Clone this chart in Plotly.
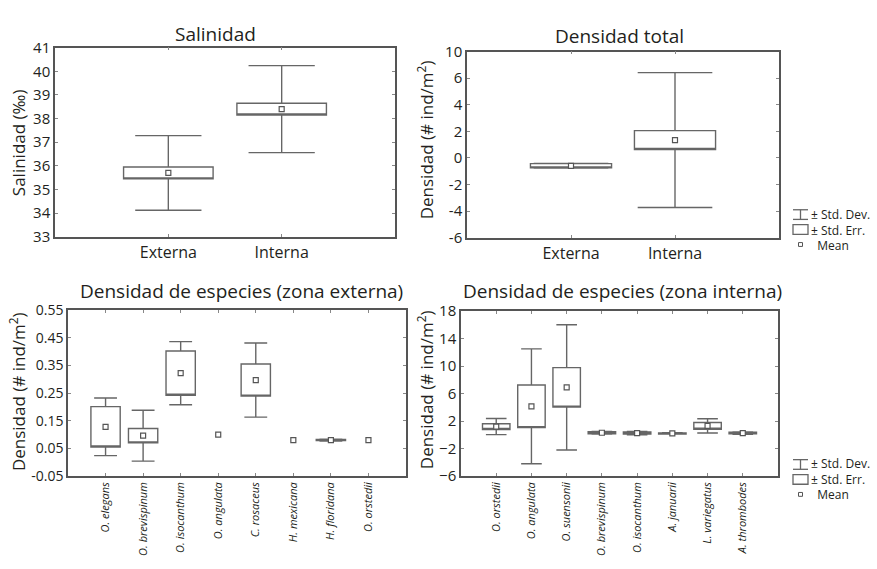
import plotly.graph_objects as go

W, H = 877, 569
FONT = "Open Sans"
TXT = "#231f20"
FRAME = "#555555"
BOXC = "#666666"

# ---------------- data ----------------
sal_cats = ["Externa", "Interna"]
sal_mean = [35.7, 38.4]
sal_se = [0.25, 0.25]
sal_sd = [1.58, 1.84]

tot_cats = ["Externa", "Interna"]
tot_mean = [-0.59, 1.34]
tot_se = [0.16, 0.71]
tot_sd = [0.17, 5.07]
tot_tickvals = [-6, -4, -2, 0, 2, 4, 6, 8]
tot_ticktext = ["-6", "-4", "-2", "0", "2", "4", "6", "10"]

ext_cats = ["O. elegans", "O. brevispinum", "O. isocanthum", "O. angulata",
            "C. rosaceus", "H. mexicana", "H. floridana", "O. orstedii"]
ext_mean = [0.128, 0.096, 0.322, 0.100, 0.297, 0.080, 0.080, 0.080]
ext_se = [0.073, 0.026, 0.080, 0.0, 0.058, 0.0, 0.002, 0.0]
ext_sd = [0.104, 0.092, 0.114, 0.0, 0.134, 0.0, 0.003, 0.0]

int_cats = ["O. orstedii", "O. angulata", "O. suensonii", "O. brevispinum",
            "O. isocanthum", "A. januarii", "L. variegatus", "A. thrombodes"]
int_mean = [1.2, 4.15, 6.9, 0.3, 0.25, 0.2, 1.3, 0.25]
int_se = [0.42, 3.1, 2.87, 0.15, 0.15, 0.08, 0.5, 0.12]
int_sd = [1.17, 8.35, 9.1, 0.2, 0.25, 0.1, 1.03, 0.18]

legend_labels = ["± Std. Dev.", "± Std. Err.", "&nbsp;&nbsp;Mean"]

# ---------------- layout geometry (pixels) ----------------
panels = [
    # (x0, x1, ytop, ybot)
    (55, 395, 38, 234),
    (467, 779, 42, 235),
    (68, 406, 310, 482),
    (461, 778, 311, 482),
]


def xd(a, b):
    return [a / W, b / W]


def yd(top, bot):
    return [1 - bot / H, 1 - top / H]


fig = go.Figure()

series = [
    (sal_cats, sal_mean, sal_se, sal_sd, 0.79, 0.74),
    (tot_cats, tot_mean, tot_se, tot_sd, 0.78, 0.92),
    (ext_cats, ext_mean, ext_se, ext_sd, 0.78, 0.78),
    (int_cats, int_mean, int_se, int_sd, 0.78, 0.75),
]

for i, (cats, mean, se, sd, bw, ww) in enumerate(series):
    xa = "x" if i == 0 else f"x{i+1}"
    ya = "y" if i == 0 else f"y{i+1}"
    keep = [j for j in range(len(cats)) if sd[j] > 0]
    fig.add_trace(go.Box(
        x=[cats[j] for j in keep],
        q1=[mean[j] - se[j] for j in keep],
        median=[mean[j] - se[j] for j in keep],
        q3=[mean[j] + se[j] for j in keep],
        lowerfence=[mean[j] - sd[j] for j in keep],
        upperfence=[mean[j] + sd[j] for j in keep],
        width=bw, whiskerwidth=ww,
        fillcolor="white", line=dict(color=BOXC, width=1.4),
        boxpoints=False, showlegend=False, hoverinfo="skip",
        xaxis=xa, yaxis=ya,
    ))
    fig.add_trace(go.Scatter(
        x=cats, y=mean, mode="markers",
        marker=dict(symbol="square", size=5, color="white",
                    line=dict(color="#555555", width=1.2)),
        showlegend=False, hoverinfo="skip", xaxis=xa, yaxis=ya,
    ))

axis_common = dict(showline=True, mirror="ticks", linecolor=FRAME, linewidth=1.5,
                   ticks="inside", ticklen=3, tickcolor="#888888", showgrid=False,
                   zeroline=False, fixedrange=True)

layout = dict(
    width=W, height=H, margin=dict(l=0, r=0, t=0, b=0),
    paper_bgcolor="white", plot_bgcolor="white",
    font=dict(family=FONT, color=TXT), showlegend=False,
)

yconf = [
    dict(range=[33, 41], tickvals=list(range(33, 42)), tickfont=dict(size=15)),
    dict(range=[-6, 8], tickvals=tot_tickvals, ticktext=tot_ticktext, tickfont=dict(size=15)),
    dict(range=[-0.05, 0.55], tickvals=[-0.05, 0.05, 0.15, 0.25, 0.35, 0.45, 0.55],
         ticktext=["-0.05", "0.05", "0.15", "0.25", "0.35", "0.45", "0.55"], tickfont=dict(size=14)),
    dict(range=[-6, 18], tickvals=[-6, -2, 2, 6, 10, 14, 18], tickfont=dict(size=15)),
]
xconf = [
    dict(range=[-1, 2], tickfont=dict(size=16), categoryorder="array", categoryarray=sal_cats),
    dict(range=[-1, 2], tickfont=dict(size=16), categoryorder="array", categoryarray=tot_cats),
    dict(range=[-1, 8], tickangle=-90, tickfont=dict(size=11, style="italic"),
         categoryorder="array", categoryarray=ext_cats),
    dict(range=[-1, 8], tickangle=-90, tickfont=dict(size=11, style="italic"),
         categoryorder="array", categoryarray=int_cats),
]

for i, (x0, x1, yt, yb) in enumerate(panels):
    xk = "xaxis" if i == 0 else f"xaxis{i+1}"
    yk = "yaxis" if i == 0 else f"yaxis{i+1}"
    ya = "y" if i == 0 else f"y{i+1}"
    xa = "x" if i == 0 else f"x{i+1}"
    layout[xk] = dict(domain=xd(x0, x1), anchor=ya, type="category", **axis_common, **xconf[i])
    layout[yk] = dict(domain=yd(yt, yb), anchor=xa, **axis_common, **yconf[i])

fig.update_layout(**layout)

# titles
titles = [
    ("Salinidad", 215, 24),
    ("Densidad total", 619, 26),
    ("Densidad de especies (zona externa)", 241, 290),
    ("Densidad de especies (zona interna)", 622, 290),
]
for t, x, y in titles:
    fig.add_annotation(text=t, x=x / W, y=1 - y / H, xref="paper", yref="paper",
                       xanchor="center", yanchor="middle", showarrow=False,
                       font=dict(size=19, family=FONT, color=TXT))

ytitles = [
    ("Salinidad (‰)", 18, 137),
    ("Densidad (# ind/m<sup>2</sup>)", 425, 134),
    ("Densidad (# ind/m<sup>2</sup>)", 17, 395),
    ("Densidad (# ind/m<sup>2</sup>)", 425, 393),
]
for t, x, y in ytitles:
    fig.add_annotation(text=t, x=x / W, y=1 - y / H, xref="paper", yref="paper",
                       xanchor="center", yanchor="middle", showarrow=False, textangle=-90,
                       font=dict(size=17, family=FONT, color=TXT))

# legends (two copies)
LH = 15.5  # line spacing in px
for ysd in (211, 470):
    yse, ymn = ysd + LH, ysd + 2 * LH
    ix0, ix1 = 793, 808
    cx = (ix0 + ix1) / 2
    for yy in (ysd - 5, ysd + 5):
        fig.add_shape(type="line", xref="paper", yref="paper",
                      x0=ix0 / W, x1=ix1 / W, y0=1 - yy / H, y1=1 - yy / H,
                      line=dict(color=BOXC, width=1.3))
    fig.add_shape(type="line", xref="paper", yref="paper",
                  x0=cx / W, x1=cx / W, y0=1 - (ysd - 5) / H, y1=1 - (ysd + 5) / H,
                  line=dict(color=BOXC, width=1.3))
    fig.add_shape(type="rect", xref="paper", yref="paper",
                  x0=ix0 / W, x1=ix1 / W, y0=1 - (yse - 5) / H, y1=1 - (yse + 5) / H,
                  line=dict(color=BOXC, width=1.3), fillcolor="white")
    fig.add_shape(type="rect", xref="paper", yref="paper",
                  x0=(cx - 2) / W, x1=(cx + 2) / W, y0=1 - (ymn - 2) / H, y1=1 - (ymn + 2) / H,
                  line=dict(color="#555555", width=1), fillcolor="white")
    fig.add_annotation(text="<br>".join(legend_labels), x=810 / W, y=1 - yse / H,
                       xref="paper", yref="paper", xanchor="left", yanchor="middle",
                       align="left", showarrow=False, borderpad=0,
                       font=dict(size=12, family=FONT, color=TXT))

fig.write_html("out.html", config={"displayModeBar": False},
               post_script="document.body.style.margin='0px';document.body.style.overflow='hidden';")
